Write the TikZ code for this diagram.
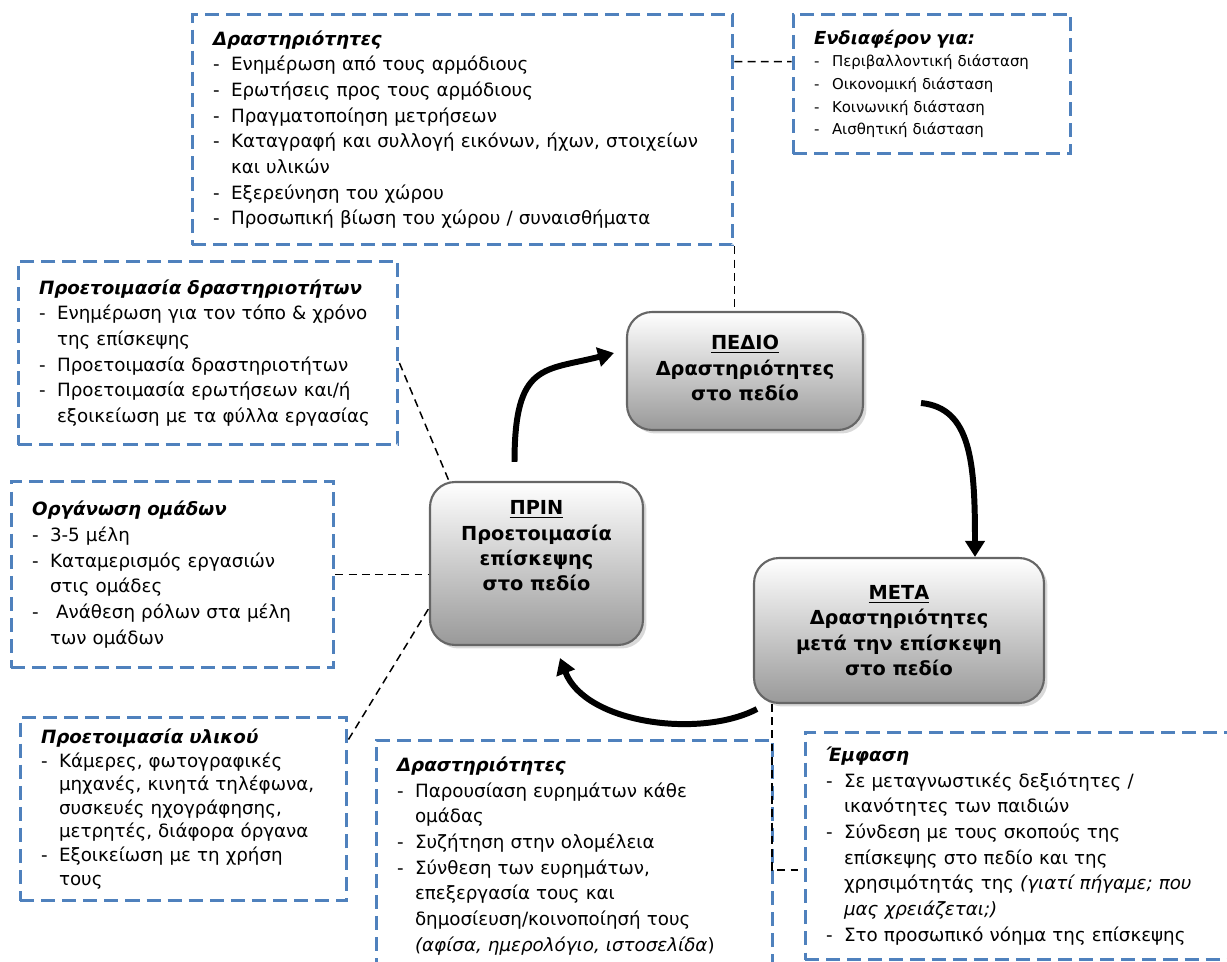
\documentclass[tikz,border=0pt]{standalone}
\usepackage{fontspec}
\setmainfont{DejaVu Sans}
\usetikzlibrary{positioning,calc,shadows,arrows.meta}
\definecolor{bxblue}{HTML}{4F81BD}
\newcommand{\itm}[1]{\mbox{\makebox[0.36cm][l]{-}#1}}
\newcommand{\ctd}[1]{\mbox{\hspace*{0.36cm}#1}}
\tikzset{
  ph/.style={rectangle, rounded corners=0.5cm, draw=black!60, line width=1.2pt, top color=white, bottom color=black!40, align=center, font=\fontsize{11}{14.4}\selectfont\bfseries, drop shadow={shadow xshift=0.07cm, shadow yshift=-0.07cm, opacity=0.3}},
  nt/.style={rectangle, draw=bxblue, line width=1.7pt, dash pattern=on 8pt off 4pt, align=left, inner xsep=0.42cm, inner ysep=0pt, font=\fontsize{10.4}{14.6}\selectfont},
  ln/.style={draw=black, line width=0.85pt, dash pattern=on 4.5pt off 3pt},
  ar/.style={line width=3.4pt, -{Triangle[length=0.32cm, width=0.38cm]}}
}
\begin{document}
\begin{tikzpicture}[x=0.02cm, y=-0.02cm]
	\clip (0,0) rectangle (1227,962);
	% phases
	\node[ph, minimum width=4.72cm, minimum height=2.36cm] (pedio) at (745,371) {\underline{ΠΕΔΙΟ}\\Δραστηριότητες\\στο πεδίο\\[-0.38cm]\mbox{}};
	\node[ph, minimum width=4.26cm, minimum height=3.26cm] (prin) at (536.5,563.5) {\underline{ΠΡΙΝ}\\Προετοιμασία\\επίσκεψης\\στο πεδίο\\[0.2cm]\mbox{}};
	\node[ph, minimum width=5.8cm, minimum height=2.9cm] (meta) at (899,630.5) {\underline{ΜΕΤΑ}\\Δραστηριότητες\\μετά την επίσκεψη\\στο πεδίο};

	% notes
	\node[nt, text width=9.98cm, minimum height=4.62cm] (nA) at (462.5,129.5) {\textbf{\textit{Δραστηριότητες}}\\
		\itm{Ενημέρωση από τους αρμόδιους}\\
		\itm{Ερωτήσεις προς τους αρμόδιους}\\
		\itm{Πραγματοποίηση μετρήσεων}\\
		\itm{Καταγραφή και συλλογή εικόνων, ήχων, στοιχείων}\\
		\ctd{και υλικών}\\
		\itm{Εξερεύνηση του χώρου}\\
		\itm{Προσωπική βίωση του χώρου / συναισθήματα}};
	\node[nt, text width=4.72cm, minimum height=2.8cm, font=\fontsize{8.5}{12.9}\selectfont] (nB) at (932,84) {{\fontsize{10.2}{12.9}\selectfont\textbf{\textit{Ενδιαφέρον για:}}}\\
		\itm{Περιβαλλοντική διάσταση}\\
		\itm{Οικονομική διάσταση}\\
		\itm{Κοινωνική διάσταση}\\
		\itm{Αισθητική διάσταση}};
	\node[nt, text width=6.76cm, minimum height=3.68cm] (nC) at (208,353) {\textbf{\textit{Προετοιμασία δραστηριοτήτων}}\\
		\itm{Ενημέρωση για τον τόπο \& χρόνο}\\
		\ctd{της επίσκεψης}\\
		\itm{Προετοιμασία δραστηριοτήτων}\\
		\itm{Προετοιμασία ερωτήσεων και/ή}\\
		\ctd{εξοικείωση με τα φύλλα εργασίας}};
	\node[nt, text width=5.62cm, minimum height=3.74cm] (nD) at (172.5,574.5) {\textbf{\textit{Οργάνωση ομάδων}}\\
		\itm{3-5 μέλη}\\
		\itm{Καταμερισμός εργασιών}\\
		\ctd{στις ομάδες}\\
		\itm{\ Ανάθεση ρόλων στα μέλη}\\
		\ctd{των ομάδων}};
	\node[nt, text width=5.7cm, minimum height=3.68cm, font=\fontsize{10.4}{13.4}\selectfont] (nE) at (183.5,809) {\textbf{\textit{Προετοιμασία υλικού}}\\
		\itm{Κάμερες, φωτογραφικές}\\
		\ctd{μηχανές, κινητά τηλέφωνα,}\\
		\ctd{συσκευές ηχογράφησης,}\\
		\ctd{μετρητές, διάφορα όργανα}\\
		\itm{Εξοικείωση με τη χρήση}\\
		\ctd{τους}};
	\node[nt, text width=7.1cm, minimum height=4.64cm] (nF) at (574.5,856) {\textbf{\textit{Δραστηριότητες}}\\
		\itm{Παρουσίαση ευρημάτων κάθε}\\
		\ctd{ομάδας}\\
		\itm{Συζήτηση στην ολομέλεια}\\
		\itm{Σύνθεση των ευρημάτων,}\\
		\ctd{επεξεργασία τους και}\\
		\ctd{δημοσίευση/κοινοποίησή τους}\\
		\ctd{\textit{(αφίσα, ημερολόγιο, ιστοσελίδα})}};
	\node[nt, text width=7.96cm, minimum height=4.56cm] (nG) at (1025,846) {\textbf{\textit{Έμφαση}}\\
		\itm{Σε μεταγνωστικές δεξιότητες /}\\
		\ctd{ικανότητες των παιδιών}\\
		\itm{Σύνδεση με τους σκοπούς της}\\
		\ctd{επίσκεψης στο πεδίο και της}\\
		\ctd{χρησιμότητάς της \textit{(γιατί πήγαμε; που}}\\
		\ctd{\textit{μας χρειάζεται;)}}\\
		\itm{Στο προσωπικό νόημα της επίσκεψης}};

	% dashed links
	\draw[ln] ([yshift=-0.98cm]nA.north east) -- ([yshift=-0.98cm]nB.north west);
	\draw[ln] (nA.south east) -- (nA.south east |- pedio.north);
	\draw[ln] ([yshift=-0.2cm]nC.east) -- ([xshift=0.4cm]prin.north west);
	\draw[ln] (nD.east) -- (nD.east -| prin.west);
	\draw[ln] ([yshift=-0.48cm]nE.north east) -- ([yshift=0.76cm]prin.south west);
	\draw[ln] ([xshift=0.38cm]meta.south west) |- ([yshift=-0.48cm]nG.west);

	% cycle
	\draw[ar] ($(prin.north)+(-22,-19)$) .. controls +(0,-100) and +(-70,18) .. ($(pedio.west)+(-12,-18)$);
	\draw[ar] ($(pedio.east)+(57,32)$) .. controls +(50,5) and +(0,-95) .. ($(meta.north)+(76,0)$);
	\draw[ar] ($(meta.south west)+(4,5)$) .. controls +(-58,30) and +(25,65) .. ($(prin.south)+(23.5,12)$);
\end{tikzpicture}
\end{document}
